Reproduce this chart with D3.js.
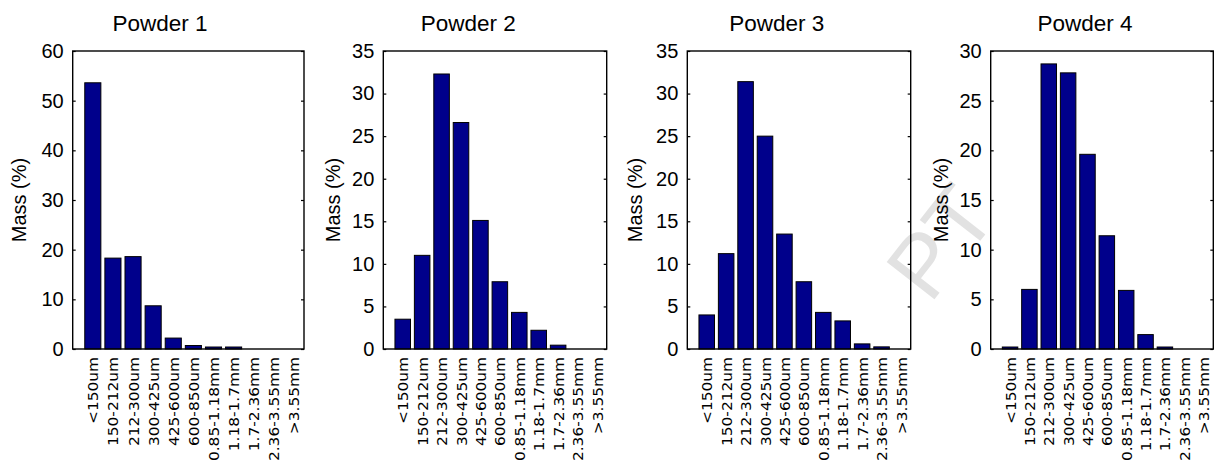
<!DOCTYPE html>
<html>
<head>
<meta charset="utf-8">
<script src="https://cdn.jsdelivr.net/npm/d3@7"></script>
<style>
  html, body { margin: 0; padding: 0; background: #ffffff; }
  svg { display: block; }
</style>
</head>
<body>
<script>
// ---------------- data ----------------
const categories = ["<150um", "150-212um", "212-300um", "300-425um", "425-600um", "600-850um",
                    "0.85-1.18mm", "1.18-1.7mm", "1.7-2.36mm", "2.36-3.55mm", ">3.55mm"];
const titles = ["Powder 1", "Powder 2", "Powder 3", "Powder 4"];
const powder1 = [53.6, 18.3, 18.6, 8.7, 2.2, 0.7, 0.4, 0.4, 0, 0, 0];
const powder2 = [3.5, 11.0, 32.3, 26.6, 15.1, 7.9, 4.3, 2.2, 0.45, 0, 0];
const powder3 = [4.0, 11.2, 31.4, 25.0, 13.5, 7.9, 4.3, 3.3, 0.6, 0.25, 0];
const powder4 = [0.2, 6.0, 28.7, 27.8, 19.6, 11.4, 5.9, 1.45, 0.2, 0, 0];
const yMax = [60, 35, 35, 30];
const yTickStep = [10, 5, 5, 5];
const yLabel = "Mass (%)";
const watermark = "PT";

// ---------------- layout ----------------
const W = 1217, H = 468;
const layout = [
  { left: 72.7,  right: 304.0,  titleX: 160,   ylabX: 19 },
  { left: 383.3, right: 606.7,  titleX: 468.3, ylabX: 333 },
  { left: 687.3, right: 910.7,  titleX: 776.7, ylabX: 635 },
  { left: 990.7, right: 1213.3, titleX: 1085,  ylabX: 941 }
];
const plotTop = 51, plotBottom = 349;
const series = [powder1, powder2, powder3, powder4];
const barColor = "#00008b";

const svg = d3.select("body").append("svg")
  .attr("width", W).attr("height", H)
  .attr("viewBox", `0 0 ${W} ${H}`);

// faint watermark (behind everything)
svg.append("text")
  .attr("transform", "translate(930,305) rotate(-52)")
  .attr("font-family", "Liberation Sans, Arial, sans-serif")
  .attr("font-size", 88)
  .attr("fill", "#e2e2e2")
  .text(watermark);

series.forEach((vals, i) => {
  const L = layout[i];
  const g = svg.append("g");

  // x positions: axis limits [0, 11.5] with bar k at k+1
  const x = d3.scaleLinear().domain([0, 11.5]).range([L.left, L.right]);
  const step = x(1) - x(0);
  const bw = step * 0.8;
  const y = d3.scaleLinear().domain([0, yMax[i]]).range([plotBottom, plotTop]);

  // bars
  g.selectAll("rect.bar").data(vals).join("rect")
    .attr("class", "bar")
    .attr("x", (d, k) => x(k + 1) - bw / 2)
    .attr("width", bw)
    .attr("y", d => y(d))
    .attr("height", d => Math.max(0, y(0) - y(d)))
    .attr("fill", barColor)
    .attr("stroke", "#000")
    .attr("stroke-width", 1);

  // y axis left and right (ticks inward)
  const ticks = d3.range(0, yMax[i] + 0.001, yTickStep[i]);
  const leftAxis = d3.axisLeft(y).tickValues(ticks).tickSizeInner(-3).tickSizeOuter(0).tickPadding(9)
    .tickFormat(d3.format("d"));
  const ga = g.append("g").attr("transform", `translate(${L.left},0)`).call(leftAxis);
  ga.selectAll("text")
    .attr("font-family", "Liberation Sans, Arial, sans-serif")
    .attr("font-size", 20).attr("fill", "#000");
  ga.select(".domain").remove();

  const rightAxis = d3.axisRight(y).tickValues(ticks).tickSizeInner(-3).tickSizeOuter(0).tickFormat("");
  const gr = g.append("g").attr("transform", `translate(${L.right},0)`).call(rightAxis);
  gr.select(".domain").remove();
  g.selectAll(".tick line").attr("stroke", "#000").attr("stroke-width", 1.2);

  // box
  g.append("rect")
    .attr("x", L.left).attr("y", plotTop)
    .attr("width", L.right - L.left).attr("height", plotBottom - plotTop)
    .attr("fill", "none").attr("stroke", "#000").attr("stroke-width", 1.4);

  // x category labels (rotated)
  const xa = d3.axisBottom(x).tickValues(d3.range(1, categories.length + 1))
    .tickSize(0).tickFormat(d => categories[d - 1]);
  const gx = g.append("g").attr("transform", `translate(0,${plotBottom})`).call(xa);
  gx.select(".domain").remove();
  gx.selectAll("text")
    .attr("font-family", "DejaVu Sans, Verdana, sans-serif")
    .attr("font-size", 14)
    .attr("fill", "#000")
    .attr("text-anchor", "end")
    .attr("y", 0).attr("dy", "0.36em")
    .attr("transform", "translate(0,8) rotate(-90) scale(1.1,1)");

  // title
  svg.append("text")
    .attr("x", L.titleX).attr("y", 31)
    .attr("text-anchor", "middle")
    .attr("font-family", "Liberation Sans, Arial, sans-serif")
    .attr("font-size", 22.5).attr("fill", "#000")
    .text(titles[i]);

  // y label
  svg.append("text")
    .attr("transform", `translate(${L.ylabX},${(plotTop + plotBottom) / 2}) rotate(-90)`)
    .attr("text-anchor", "middle").attr("dy", "0.35em")
    .attr("font-family", "Liberation Sans, Arial, sans-serif")
    .attr("font-size", 20).attr("fill", "#000")
    .text(yLabel);
});
</script>
</body>
</html>
